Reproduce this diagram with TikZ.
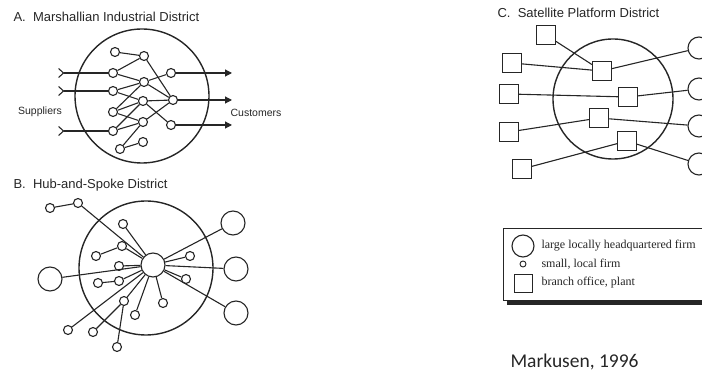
\documentclass[tikz,border=0pt]{standalone}
\usepackage{fontspec}
\setmainfont{Liberation Sans}
\newfontfamily\legendfont{Liberation Serif}
\newfontfamily\notefont{Carlito}
\usetikzlibrary{arrows.meta}

\begin{document}
\begin{tikzpicture}[x=1pt,y=-1pt,line width=1.1pt,color=black!85,
  firm/.style={circle,draw,fill=white,inner sep=0pt,minimum size=9pt},
  bigfirm/.style={circle,draw,fill=white,inner sep=0pt,minimum size=24pt},
  branch/.style={rectangle,draw,fill=white,inner sep=0pt,minimum size=19pt},
  district/.style={draw,line width=1.4pt}]
  \tikzstyle{paneltitle} = [anchor=west,inner sep=0pt,font=\fontsize{13}{15}\selectfont]
  \tikzstyle{flowtext} = [inner sep=0pt,font=\fontsize{10.5}{12}\selectfont]
  \tikzstyle{legendtext} = [anchor=west,inner sep=0pt,font=\legendfont\fontsize{12}{14}\selectfont]
  \useasboundingbox (0,0) rectangle (702,371);
  \clip (0,0) rectangle (702,371);

  \node (title_a) [paneltitle] at (13,17) {A.\ \ Marshallian Industrial District};
  \draw[district] (142,96) circle (67);
  \node (a1) [firm] at (115,52) {};
  \node (a2) [firm] at (144,56) {};
  \node (a3) [firm] at (113,73) {};
  \node (a4) [firm] at (171,73) {};
  \node (a5) [firm] at (144,82) {};
  \node (a6) [firm] at (113,91) {};
  \node (a7) [firm] at (143,101) {};
  \node (a8) [firm] at (173,100) {};
  \node (a9) [firm] at (113,112) {};
  \node (a10) [firm] at (143,122) {};
  \node (a11) [firm] at (171,125) {};
  \node (a12) [firm] at (113,131) {};
  \node (a13) [firm] at (143,142) {};
  \node (a14) [firm] at (120,149) {};
  \draw (a1) -- (a2); \draw (a3) -- (a2); \draw (a3) -- (a5);
  \draw (a6) -- (a5); \draw (a6) -- (a7); \draw (a9) -- (a5);
  \draw (a9) -- (a7); \draw (a9) -- (a10); \draw (a12) -- (a7);
  \draw (a12) -- (a10); \draw (a14) -- (a10); \draw (a14) -- (a13);
  \draw (a2) -- (a8); \draw (a5) -- (a4); \draw (a5) -- (a8);
  \draw (a7) -- (a8); \draw (a7) -- (a11); \draw (a10) -- (a8);
  \coordinate (sup1) at (58,73);
  \coordinate (sup2) at (58,91);
  \coordinate (sup3) at (58,131);
  \coordinate (cus1) at (232,73);
  \coordinate (cus2) at (232,100);
  \coordinate (cus3) at (232,125);
  \draw[{Straight Barb[reversed,length=5pt,width=9pt]}-] (sup1) -- (a3);
  \draw[{Straight Barb[reversed,length=5pt,width=9pt]}-] (sup2) -- (a6);
  \draw[{Straight Barb[reversed,length=5pt,width=9pt]}-] (sup3) -- (a12);
  \draw[-{Triangle[length=7pt,width=7pt]}] (a4) -- (cus1);
  \draw[-{Triangle[length=7pt,width=7pt]}] (a8) -- (cus2);
  \draw[-{Triangle[length=7pt,width=7pt]}] (a11) -- (cus3);
  \node (suppliers) [flowtext] at (40,112) {Suppliers};
  \node (customers) [flowtext] at (256,113) {Customers};

  \node (title_b) [paneltitle] at (13,185) {B.\ \ Hub-and-Spoke District};
  \draw[district] (146,268) circle (67);
  \node (hub) [bigfirm] at (153,265) {};
  \node (b_left) [bigfirm] at (50,279) {};
  \node (b_right1) [bigfirm] at (233,223) {};
  \node (b_right2) [bigfirm] at (236,269) {};
  \node (b_right3) [bigfirm] at (236,313) {};
  \node (b1) [firm] at (50,208) {};
  \node (b2) [firm] at (78,203) {};
  \node (b3) [firm] at (123,224) {};
  \node (b4) [firm] at (122,246) {};
  \node (b5) [firm] at (96,256) {};
  \node (b6) [firm] at (119,266) {};
  \node (b7) [firm] at (98,283) {};
  \node (b8) [firm] at (119,281) {};
  \node (b9) [firm] at (124,301) {};
  \node (b10) [firm] at (93,332) {};
  \node (b11) [firm] at (117,347) {};
  \node (b12) [firm] at (68,330) {};
  \node (b13) [firm] at (135,315) {};
  \node (b14) [firm] at (163,303) {};
  \node (b15) [firm] at (190,256) {};
  \node (b16) [firm] at (186,279) {};
  \draw (b1) -- (b2); \draw (b2) -- (hub); \draw (b3) -- (hub);
  \draw (b5) -- (b4); \draw (b4) -- (hub); \draw (b6) -- (hub);
  \draw (b7) -- (b8); \draw (b8) -- (hub); \draw (b10) -- (b9);
  \draw (b11) -- (b9); \draw (b9) -- (hub); \draw (b12) -- (hub);
  \draw (b13) -- (hub); \draw (b14) -- (hub); \draw (b15) -- (hub);
  \draw (b16) -- (hub); \draw (b_left) -- (hub); \draw (b_right1) -- (hub);
  \draw (b_right2) -- (hub); \draw (b_right3) -- (hub);

  \node (title_c) [paneltitle] at (497,13) {C.\ \ Satellite Platform District};
  \draw[district] (613,99) circle (60);
  \node (c1) [branch] at (546,35) {};
  \node (c2) [branch] at (512,63) {};
  \node (c3) [branch] at (509,94) {};
  \node (c4) [branch] at (509,132) {};
  \node (c5) [branch] at (522,169) {};
  \node (ca) [branch] at (602,71) {};
  \node (cb) [branch] at (628,97) {};
  \node (cc) [branch] at (599,118) {};
  \node (cd) [branch] at (627,141) {};
  \node (c_hq1) [bigfirm,minimum size=22pt] at (699,48) {};
  \node (c_hq2) [bigfirm,minimum size=22pt] at (699,89) {};
  \node (c_hq3) [bigfirm,minimum size=22pt] at (699,126) {};
  \node (c_hq4) [bigfirm,minimum size=22pt] at (699,164) {};
  \draw (c1) -- (ca); \draw (c2) -- (ca); \draw (ca) -- (c_hq1);
  \draw (c3) -- (cb); \draw (cb) -- (c_hq2);
  \draw (c4) -- (cc); \draw (cc) -- (c_hq3);
  \draw (c5) -- (cd); \draw (cd) -- (c_hq4);

  \fill (507,233) rectangle (712,305);
  \draw[fill=white,line width=0.8pt] (503,228) rectangle (708,300);
  \node (leg_big) [bigfirm,minimum size=22pt] at (523,246) {};
  \node (leg_small) [firm,minimum size=6pt,line width=0.9pt] at (523,264) {};
  \node (leg_branch) [branch,minimum size=18pt,line width=0.9pt] at (523,283) {};
  \node (leg_big_text) [legendtext] at (541,246) {large locally headquartered firm};
  \node (leg_small_text) [legendtext] at (541,264) {small, local firm};
  \node (leg_branch_text) [legendtext] at (541,283) {branch office, plant};

  \node (source) [anchor=west,inner sep=0pt,font=\notefont\fontsize{19.5}{22}\selectfont] at (510,362) {Markusen, 1996};
\end{tikzpicture}
\end{document}
